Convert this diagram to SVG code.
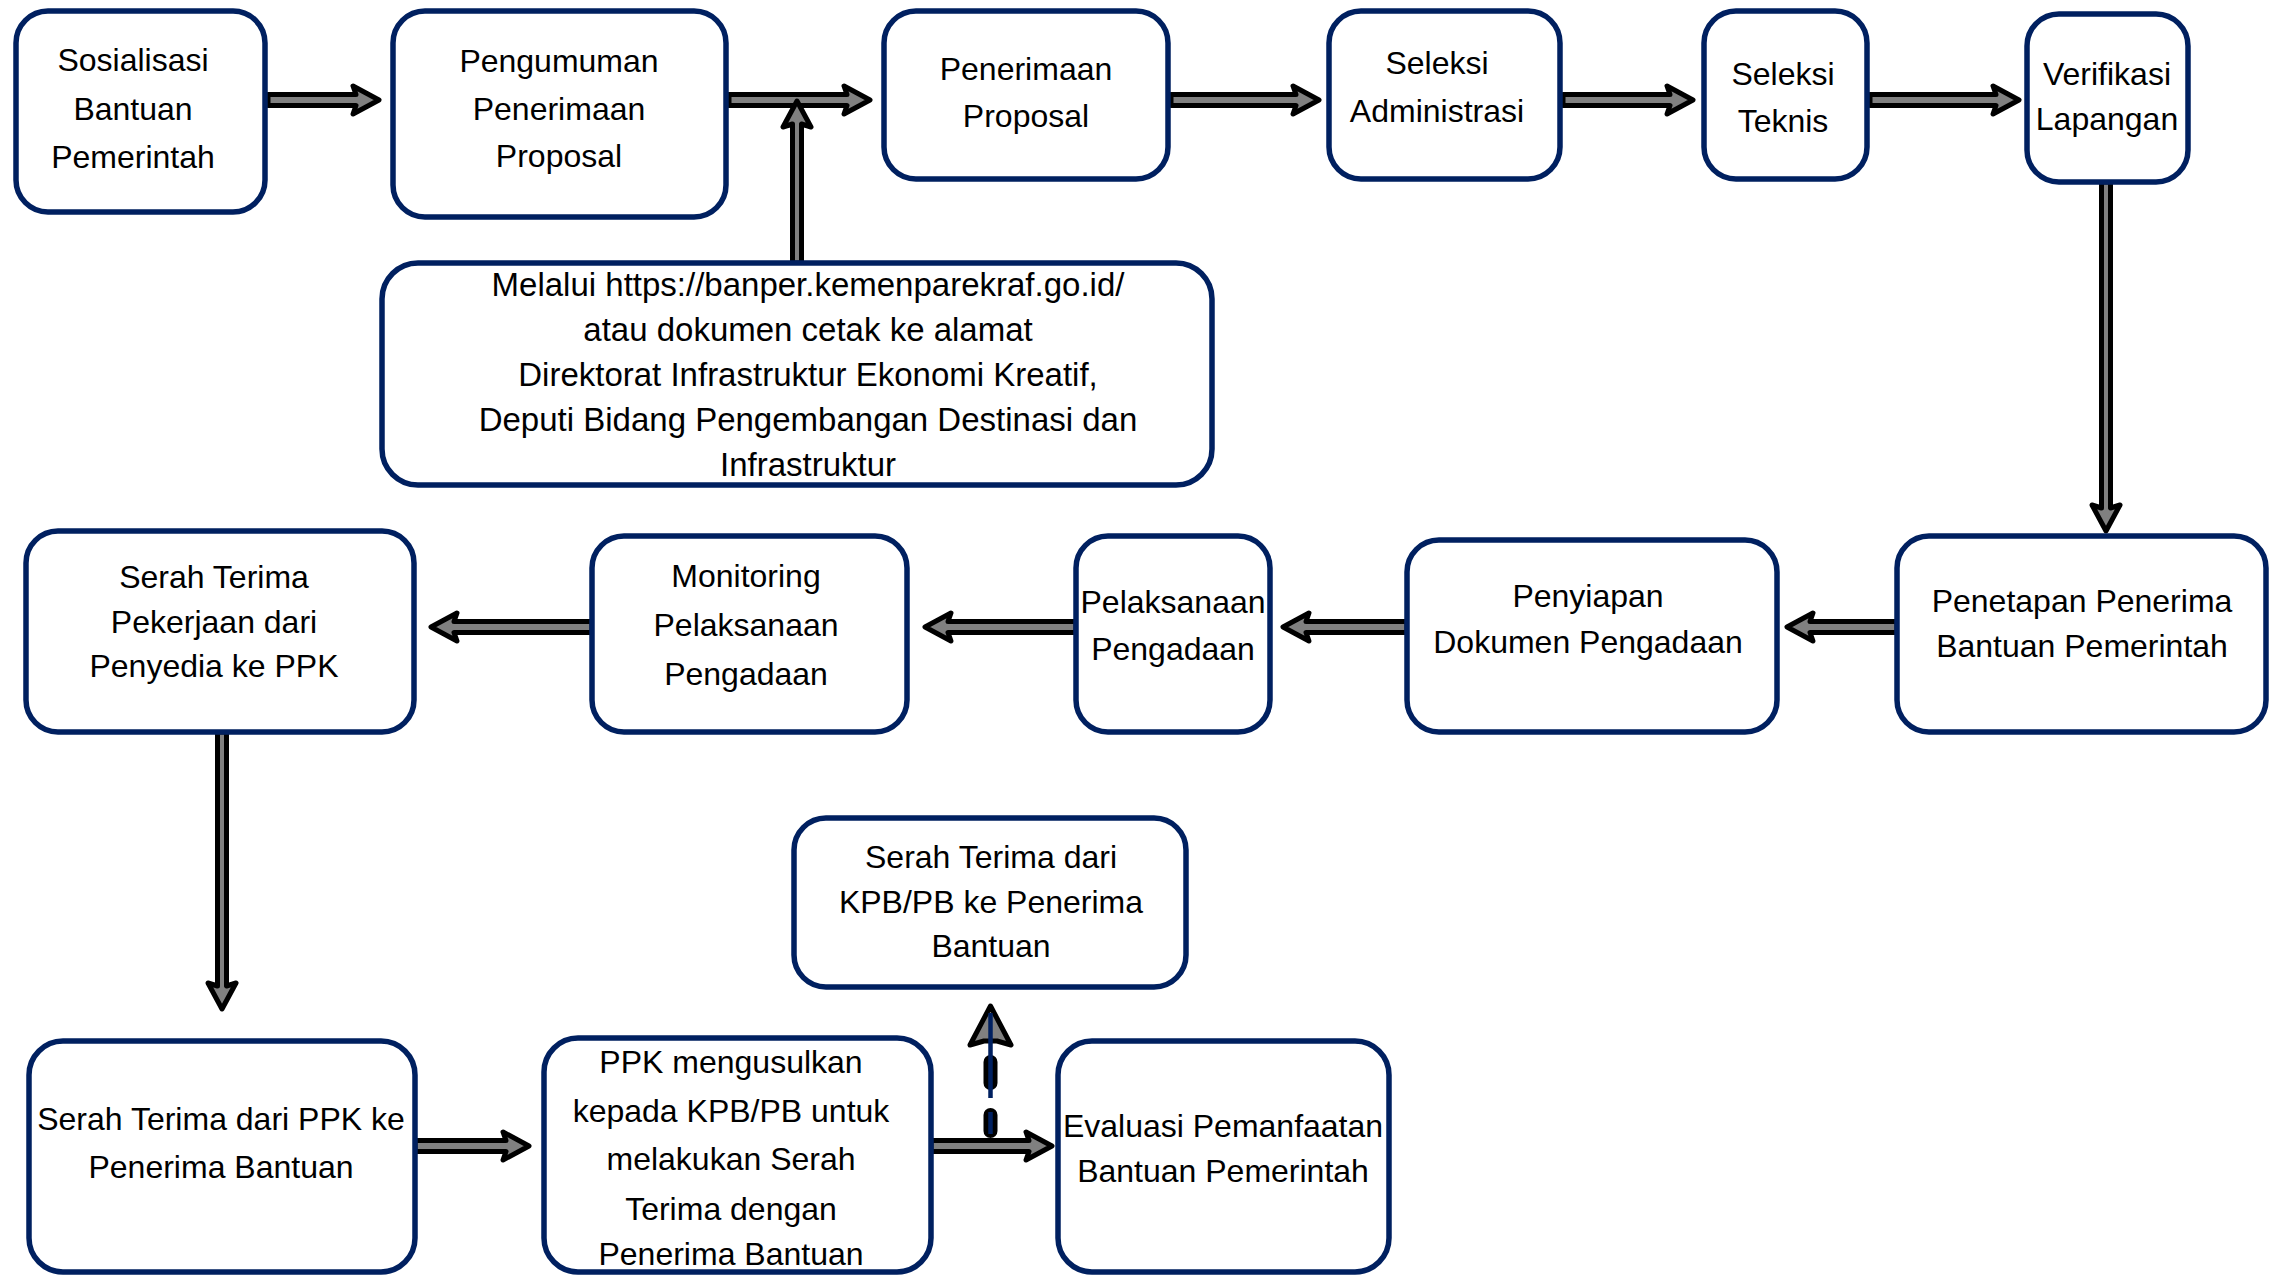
<svg xmlns="http://www.w3.org/2000/svg" width="2280" height="1276" viewBox="0 0 2280 1276">
<style>
.box{fill:#fff;stroke:#002060;stroke-width:5.5}
.t{font-family:"Liberation Sans",Arial,sans-serif;font-size:32px;fill:#000;text-anchor:middle}
.t33{font-size:33px}
.arr{fill:#808080;stroke:#000;stroke-width:5;stroke-linejoin:round}
</style>
<rect x="0" y="0" width="2280" height="1276" fill="#fff"/>
<g id="connectors">
<path class="arr" d="M268 94.5 H356 L353 86 L379 100 L353 114 L356 105.5 H268 Z"/>
<path class="arr" d="M729 94.5 H847 L844 86 L870 100 L844 114 L847 105.5 H729 Z"/>
<path class="arr" d="M1171 94.5 H1296 L1293 86 L1319 100 L1293 114 L1296 105.5 H1171 Z"/>
<path class="arr" d="M1563 94.5 H1670 L1667 86 L1693 100 L1667 114 L1670 105.5 H1563 Z"/>
<path class="arr" d="M1870 94.5 H1996 L1993 86 L2019 100 L1993 114 L1996 105.5 H1870 Z"/>
<path class="arr" d="M792.5 263 V124 L783 127 L797 101 L811 127 L801.5 124 V263 Z"/>
<path class="arr" d="M2101.5 182 V508 L2092 505 L2106 531 L2120 505 L2110.5 508 V182 Z"/>
<path class="arr" d="M1897 621.5 H1810 L1813 613 L1787 627 L1813 641 L1810 632.5 H1897 Z"/>
<path class="arr" d="M1407 621.5 H1306 L1309 613 L1283 627 L1309 641 L1306 632.5 H1407 Z"/>
<path class="arr" d="M1076 621.5 H948 L951 613 L925 627 L951 641 L948 632.5 H1076 Z"/>
<path class="arr" d="M592 621.5 H454 L457 613 L431 627 L457 641 L454 632.5 H592 Z"/>
<path class="arr" d="M217.5 732 V986 L208 983 L222 1009 L236 983 L226.5 986 V732 Z"/>
<path class="arr" d="M415 1140.5 H506 L503 1132 L529 1146 L503 1160 L506 1151.5 H415 Z"/>
<g id="dashed-up">
<path d="M990.5 1131 V1062" fill="none" stroke="#000" stroke-width="14" stroke-linecap="round" stroke-dasharray="16 32 21 200"/>
<path class="arr" d="M984 1041 L970 1045 L990.5 1006 L1011 1045 L997 1041 Z"/>
<path d="M990.5 1134 V1013" fill="none" stroke="#002060" stroke-width="4.5" stroke-dasharray="22 14 200"/>
</g>
<path class="arr" d="M931 1140.5 H1029 L1026 1132 L1052 1146 L1026 1160 L1029 1151.5 H931 Z"/>
</g>
<g id="n1"><rect class="box" x="16" y="11" width="249" height="201" rx="32"/>
<text class="t" x="133" y="71">Sosialisasi</text><text class="t" x="133" y="120">Bantuan</text><text class="t" x="133" y="168">Pemerintah</text></g>
<g id="n2"><rect class="box" x="393" y="11" width="333" height="206" rx="32"/>
<text class="t" x="559" y="72">Pengumuman</text><text class="t" x="559" y="120">Penerimaan</text><text class="t" x="559" y="167">Proposal</text></g>
<g id="n3"><rect class="box" x="884" y="11" width="284" height="168" rx="32"/>
<text class="t" x="1026" y="80">Penerimaan</text><text class="t" x="1026" y="127">Proposal</text></g>
<g id="n4"><rect class="box" x="1329" y="11" width="231" height="168" rx="32"/>
<text class="t" x="1437" y="74">Seleksi</text><text class="t" x="1437" y="122">Administrasi</text></g>
<g id="n5"><rect class="box" x="1704" y="11" width="163" height="168" rx="32"/>
<text class="t" x="1783" y="85">Seleksi</text><text class="t" x="1783" y="132">Teknis</text></g>
<g id="n6"><rect class="box" x="2027" y="14" width="161" height="168" rx="32"/>
<text class="t" x="2107" y="85">Verifikasi</text><text class="t" x="2107" y="130">Lapangan</text></g>
<g id="n7"><rect class="box" x="382" y="263" width="830" height="222" rx="36"/>
<text class="t t33" x="808" y="296">Melalui https://banper.kemenparekraf.go.id/</text>
<text class="t t33" x="808" y="341">atau dokumen cetak ke alamat</text>
<text class="t t33" x="808" y="386">Direktorat Infrastruktur Ekonomi Kreatif,</text>
<text class="t t33" x="808" y="431">Deputi Bidang Pengembangan Destinasi dan</text>
<text class="t t33" x="808" y="476">Infrastruktur</text></g>
<g id="n8"><rect class="box" x="26" y="531" width="388" height="201" rx="32"/>
<text class="t" x="214" y="588">Serah Terima</text><text class="t" x="214" y="633">Pekerjaan dari</text><text class="t" x="214" y="677">Penyedia ke PPK</text></g>
<g id="n9"><rect class="box" x="592" y="536" width="315" height="196" rx="32"/>
<text class="t" x="746" y="587">Monitoring</text><text class="t" x="746" y="636">Pelaksanaan</text><text class="t" x="746" y="685">Pengadaan</text></g>
<g id="n10"><rect class="box" x="1076" y="536" width="194" height="196" rx="32"/>
<text class="t" x="1173" y="613">Pelaksanaan</text><text class="t" x="1173" y="660">Pengadaan</text></g>
<g id="n11"><rect class="box" x="1407" y="540" width="370" height="192" rx="32"/>
<text class="t" x="1588" y="607">Penyiapan</text><text class="t" x="1588" y="653">Dokumen Pengadaan</text></g>
<g id="n12"><rect class="box" x="1897" y="536" width="369" height="196" rx="32"/>
<text class="t" x="2082" y="612">Penetapan Penerima</text><text class="t" x="2082" y="657">Bantuan Pemerintah</text></g>
<g id="n13"><rect class="box" x="794" y="818" width="392" height="169" rx="32"/>
<text class="t" x="991" y="868">Serah Terima dari</text><text class="t" x="991" y="913">KPB/PB ke Penerima</text><text class="t" x="991" y="957">Bantuan</text></g>
<g id="n14"><rect class="box" x="29" y="1041" width="386" height="231" rx="34"/>
<text class="t" x="221" y="1130">Serah Terima dari PPK ke</text><text class="t" x="221" y="1178">Penerima Bantuan</text></g>
<g id="n15"><rect class="box" x="544" y="1038" width="387" height="234" rx="34"/>
<text class="t" x="731" y="1073">PPK mengusulkan</text><text class="t" x="731" y="1122">kepada KPB/PB untuk</text><text class="t" x="731" y="1170">melakukan Serah</text><text class="t" x="731" y="1220">Terima dengan</text><text class="t" x="731" y="1265">Penerima Bantuan</text></g>
<g id="n16"><rect class="box" x="1058" y="1041" width="331" height="231" rx="34"/>
<text class="t" x="1223" y="1137">Evaluasi Pemanfaatan</text><text class="t" x="1223" y="1182">Bantuan Pemerintah</text></g>
</svg>
